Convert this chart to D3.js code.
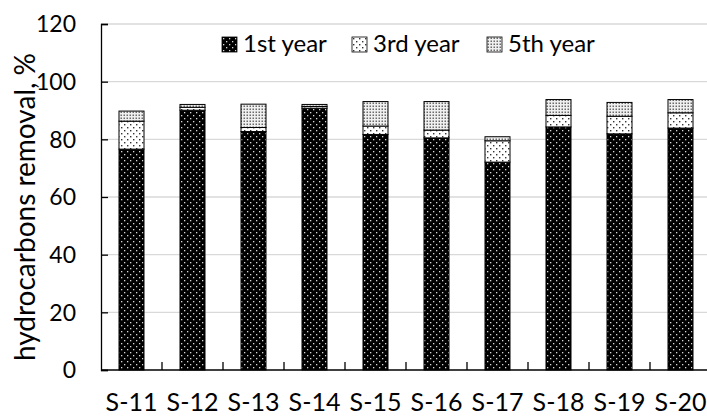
<!DOCTYPE html>
<html>
<head>
<meta charset="utf-8">
<script src="https://cdn.jsdelivr.net/npm/d3@7"></script>
<style>
  body { margin: 0; background: #fff; }
  svg { display: block; font-family: Lato, "Open Sans", sans-serif; }
</style>
</head>
<body>
<svg id="chart"></svg>
<script>
// sample sites and removal per year (%)
var sites = ["S-11", "S-12", "S-13", "S-14", "S-15", "S-16", "S-17", "S-18", "S-19", "S-20"];
var year1 = [76.6, 90.1, 82.7, 90.8, 81.7, 80.5, 72.1, 84.3, 81.9, 83.9];
var year3 = [9.7, 1.0, 1.4, 0.6, 2.9, 2.7, 7.4, 4.0, 6.1, 5.3];
var year5 = [3.5, 1.0, 8.1, 0.7, 8.5, 9.9, 1.4, 5.5, 4.8, 4.6];
var seriesNames = ["1st year", "3rd year", "5th year"];
var yTicks = [0, 20, 40, 60, 80, 100, 120];

var width = 707, height = 419;
var plotLeft = 101, plotRight = 711, plotTop = 24, plotBottom = 370;

var svg = d3.select("#chart").attr("width", width).attr("height", height);

// fill patterns
var defs = svg.append("defs");

var p1 = defs.append("pattern").attr("id", "pat0")
    .attr("width", 6).attr("height", 6).attr("patternUnits", "userSpaceOnUse");
p1.append("rect").attr("width", 6).attr("height", 6).attr("fill", "#000");
p1.append("rect").attr("x", 1).attr("y", 1).attr("width", 1.3).attr("height", 1.3).attr("fill", "#d8d8d8");
p1.append("rect").attr("x", 4).attr("y", 4).attr("width", 1.3).attr("height", 1.3).attr("fill", "#d8d8d8");

var p3 = defs.append("pattern").attr("id", "pat1")
    .attr("width", 6).attr("height", 6).attr("patternUnits", "userSpaceOnUse");
p3.append("rect").attr("width", 6).attr("height", 6).attr("fill", "#fff");
p3.append("rect").attr("x", 1).attr("y", 1).attr("width", 1.4).attr("height", 1.4).attr("fill", "#333");
p3.append("rect").attr("x", 4).attr("y", 4).attr("width", 1.4).attr("height", 1.4).attr("fill", "#333");

var p5 = defs.append("pattern").attr("id", "pat2")
    .attr("width", 3).attr("height", 3).attr("patternUnits", "userSpaceOnUse");
p5.append("rect").attr("width", 3).attr("height", 3).attr("fill", "#f0f0f0");
p5.append("rect").attr("x", 0.5).attr("y", 0.5).attr("width", 1.5).attr("height", 1.5).attr("fill", "#6a6a6a");

var x = d3.scaleBand()
    .domain(sites)
    .range([plotLeft, plotRight])
    .paddingInner(0.59)
    .paddingOuter(0.295);

var y = d3.scaleLinear().domain([0, 120]).range([plotBottom, plotTop]);

// gridlines
svg.append("g")
    .selectAll("line")
    .data(yTicks.slice(1))
    .enter()
    .append("line")
    .attr("x1", plotLeft).attr("x2", plotRight)
    .attr("y1", function(d) { return y(d); })
    .attr("y2", function(d) { return y(d); })
    .attr("stroke", "#d9d9d9")
    .attr("stroke-width", 1.3);

// stacked bars
var rows = sites.map(function(s, i) {
    return {site: s, "1st year": year1[i], "3rd year": year3[i], "5th year": year5[i]};
});
var stacked = d3.stack().keys(seriesNames)(rows);

svg.append("g")
    .selectAll("g")
    .data(stacked)
    .enter()
    .append("g")
    .attr("fill", function(d, i) { return "url(#pat" + i + ")"; })
    .selectAll("rect")
    .data(function(d) { return d; })
    .enter()
    .append("rect")
    .attr("x", function(d) { return x(d.data.site); })
    .attr("width", x.bandwidth())
    .attr("y", function(d) { return y(d[1]); })
    .attr("height", function(d) { return y(d[0]) - y(d[1]); })
    .attr("stroke", "#000")
    .attr("stroke-width", 1);

// y axis, ticks inside
var yAxis = svg.append("g")
    .attr("transform", "translate(" + plotLeft + ",0)")
    .call(d3.axisRight(y).tickValues(yTicks).tickSize(7).tickFormat(""));
yAxis.select(".domain").attr("stroke-width", 1.3);
yAxis.selectAll(".tick line").attr("stroke-width", 1.3);

svg.append("g")
    .selectAll("text")
    .data(yTicks)
    .enter()
    .append("text")
    .attr("x", 76)
    .attr("y", function(d) { return y(d); })
    .attr("dy", "0.36em")
    .attr("text-anchor", "end")
    .attr("font-size", 23)
    .text(function(d) { return d; });

// x axis with ticks between categories pointing up
var step = x.step();
var xAxis = svg.append("g")
    .attr("transform", "translate(0," + plotBottom + ")");
xAxis.append("line")
    .attr("x1", plotLeft).attr("x2", plotRight)
    .attr("stroke", "#000").attr("stroke-width", 1.3);
xAxis.selectAll(".sep")
    .data(sites.slice(1))
    .enter()
    .append("line")
    .attr("class", "sep")
    .attr("x1", function(d) { return x(d) - x.paddingInner() * step / 2; })
    .attr("x2", function(d) { return x(d) - x.paddingInner() * step / 2; })
    .attr("y1", 0).attr("y2", -8)
    .attr("stroke", "#000").attr("stroke-width", 1.3);

svg.append("g")
    .selectAll("text")
    .data(sites)
    .enter()
    .append("text")
    .attr("x", function(d) { return x(d) + x.bandwidth() / 2; })
    .attr("y", 411)
    .attr("text-anchor", "middle")
    .attr("font-size", 25)
    .text(function(d) { return d; });

// axis title
svg.append("text")
    .attr("transform", "translate(35,207) rotate(-90)")
    .attr("text-anchor", "middle")
    .attr("font-size", 28)
    .text("hydrocarbons removal, %");

// legend
var legendX = [222, 352, 487];
var legend = svg.append("g")
    .selectAll("g")
    .data(seriesNames)
    .enter()
    .append("g")
    .attr("transform", function(d, i) { return "translate(" + legendX[i] + ",37)"; });
legend.append("rect")
    .attr("width", 15).attr("height", 15)
    .attr("fill", function(d, i) { return "url(#pat" + i + ")"; })
    .attr("stroke", "#000").attr("stroke-width", 0.8);
legend.append("text")
    .attr("x", 21)
    .attr("y", 15)
    .attr("font-size", 24)
    .text(function(d) { return d; });
</script>
</body>
</html>
